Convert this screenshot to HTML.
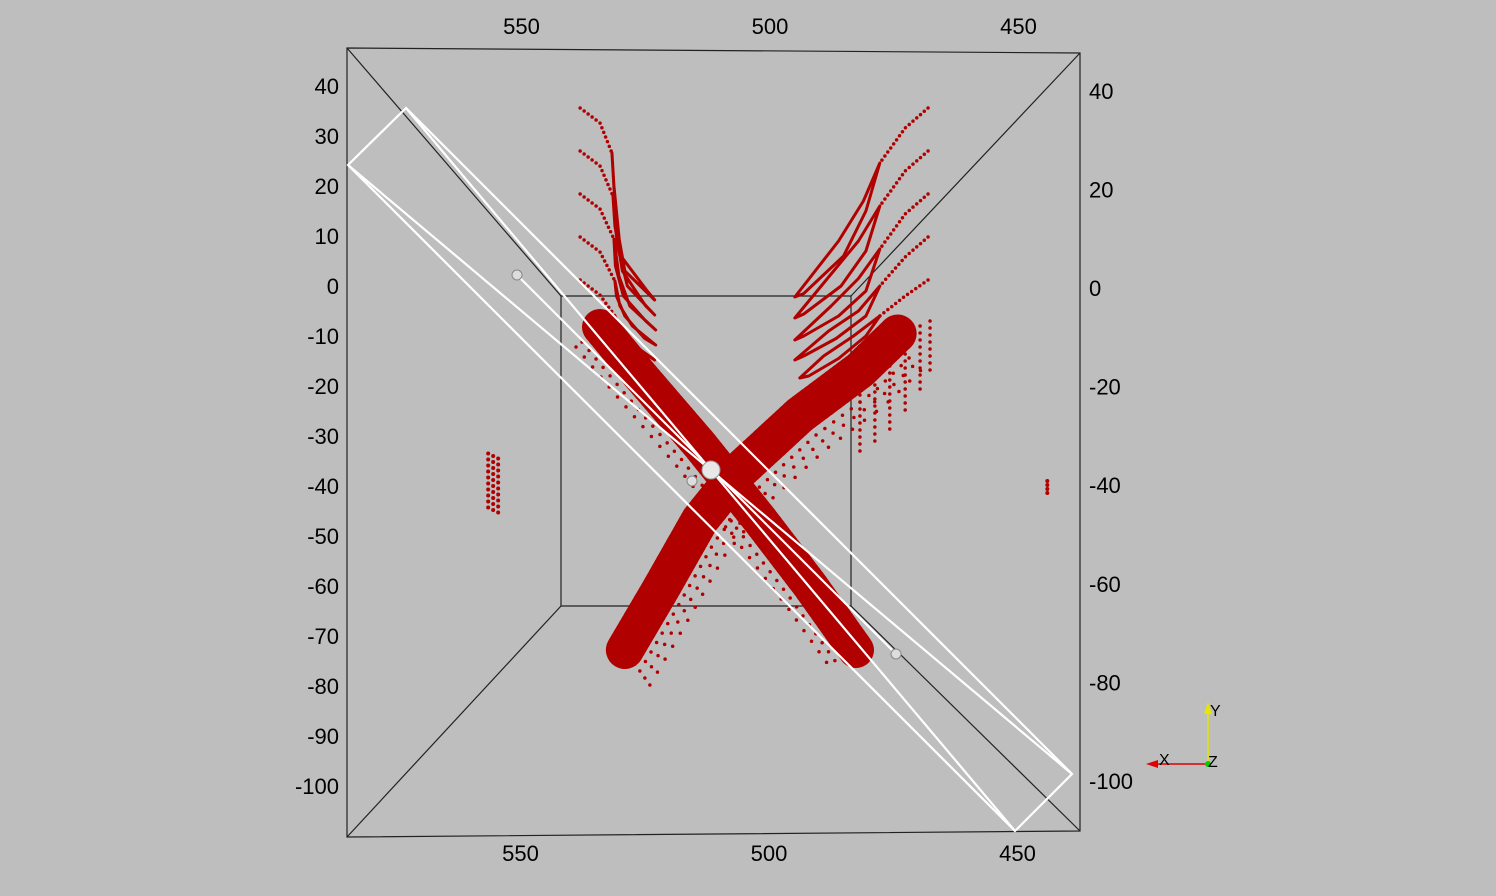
<!DOCTYPE html>
<html><head><meta charset="utf-8"><style>
html,body{margin:0;padding:0;background:#bebebe;}
svg{display:block;}
text{font-family:"Liberation Sans",sans-serif;font-size:22px;fill:#000;}
</style></head><body>
<svg id="chart" width="1496" height="896" viewBox="0 0 1496 896">
<rect width="1496" height="896" fill="#bebebe"/>
<g id="frame" stroke="#222" stroke-width="1.2" fill="none">
<polygon points="347,48 1080,53 1080,831 347,837"/>
<polygon points="561,296 851,296 851,606 561,606"/>
<line x1="347" y1="48" x2="561" y2="296"/>
<line x1="1080" y1="53" x2="851" y2="296"/>
<line x1="347" y1="837" x2="561" y2="606"/>
<line x1="1080" y1="831" x2="851" y2="606"/>
</g>
<g id="marks"></g>
<g id="plane" stroke="#fff" stroke-width="2.2" fill="none">
<polygon points="348,165 406,108 1072,774 1015,831"/>
<line x1="348" y1="165" x2="1072" y2="774"/>
<line x1="406" y1="108" x2="1015" y2="831"/>
<line x1="517" y1="275" x2="896" y2="654"/>
</g>
<g>
<circle cx="517" cy="275" r="5" fill="#ddd" stroke="#888"/>
<circle cx="711" cy="470" r="9" fill="#e8e8e8" stroke="#999"/>
<circle cx="692" cy="481" r="5" fill="#ddd" stroke="#888"/>
<circle cx="896" cy="654" r="5" fill="#ddd" stroke="#888"/>
</g>
<g id="labels"></g>
<g>
<line x1="1208" y1="764" x2="1208" y2="710" stroke="#e6e600" stroke-width="1.5"/>
<polygon points="1204,714 1212,714 1208,702" fill="#e6e600"/>
<line x1="1208" y1="764" x2="1155" y2="764" stroke="#e00000" stroke-width="1.5"/>
<polygon points="1158,760 1158,768 1146,764" fill="#e00000"/>
<circle cx="1208" cy="764" r="3" fill="#00d000"/>
<text x="1210" y="716" style="font-size:16px">Y</text>
<text x="1159" y="765" style="font-size:16px">X</text>
<text x="1208" y="767" style="font-size:16px">Z</text>
</g>
</svg>
<script>
// axis data
const leftTicks = [40,30,20,10,0,-10,-20,-30,-40,-50,-60,-70,-80,-90,-100];
const rightTicks = [40,20,0,-20,-40,-60,-80,-100];
const xTicks = [550,500,450];
// left strands: dotted tails and solid loops (data units x, y)
const leftTail1 = [[538,35.6],[534,32.6],[531.6,26.6]];
const leftLoop1 = [[531.6,26.6],[530.8,13],[529,3],[523,-2.8],[524.5,-1],[529.8,6],[531.2,20],[531.6,26.6]];
const leftTail2 = [[538,27],[534,24],[531.4,18]];
const leftLoop2 = [[531.4,18],[530.5,8],[528.5,0],[523,-5.8],[524.8,-4],[529.5,3],[531,12],[531.4,18]];
const leftTail3 = [[538,18.4],[534,15.4],[531.2,9.4]];
const leftLoop3 = [[531.2,9.4],[530.2,2],[528,-4],[522.8,-8.8],[524.8,-7],[529.3,-2],[530.9,4],[531.2,9.4]];
const leftTail4 = [[538,9.8],[534,6.8],[531,1]];
const leftLoop4 = [[531,1],[530,-4],[527.5,-8],[522.8,-11.8],[525,-10.5],[529,-6],[530.7,-2],[531,1]];
const leftTail5 = [[538,1.2],[534,-1.8],[531,-6]];
const leftLoop5 = [[531,-6],[529.5,-9],[527,-12],[523,-14.8],[525,-13.5],[529,-10],[531,-6]];
// right strands
const rightTail1 = [[468,35.6],[472.6,31.6],[477.7,24.6]];
const rightLoop1 = [[477.7,24.6],[481,17],[486,9],[494.8,-2.2],[493,-1.5],[485,6],[480.5,15],[477.7,24.6]];
const rightTail2 = [[468,27],[472.6,23],[477.7,16]];
const rightLoop2 = [[477.7,16],[482,9],[487,3],[494.8,-6.4],[493,-5.6],[485.5,0],[480.5,7],[477.7,16]];
const rightTail3 = [[468,18.4],[472.6,14.4],[477.7,7.4]];
const rightLoop3 = [[477.7,7.4],[482,1.5],[487.5,-4],[494.8,-10.8],[493,-10],[486,-6],[480.5,-1],[477.7,7.4]];
const rightTail4 = [[468,9.8],[472.6,5.8],[477.7,0]];
const rightLoop4 = [[477.7,0],[482,-5],[488,-9],[494.8,-14.8],[493,-14],[486.5,-10.5],[480.5,-6],[477.7,0]];
const rightTail5 = [[468,1.2],[472.6,-2],[477.7,-6]];
const rightLoop5 = [[477.7,-6],[483,-10],[489,-14],[493.8,-18.4],[492,-18],[486,-14.5],[480.5,-10],[477.7,-6]];
// dense bands
const band1 = [[534,-8.2],[526,-17.8],[513.9,-31.8],[501.8,-46.8],[491.8,-59.8],[482.5,-72.8]];
const band2 = [[529,-72.8],[521.9,-60.8],[513.9,-46.8],[505.8,-36.8],[493.8,-25.8],[481.7,-16.8],[474,-9.4]];
// drips in upper-right scatter region
const drip1 = [[481.7,-12],[481.7,-34]];
const drip2 = [[478.7,-10],[478.7,-32]];
const drip3 = [[475.7,-9],[475.7,-30]];
const drip4 = [[472.6,-8],[472.6,-26]];
const drip5 = [[469.6,-8],[469.6,-22]];
const drip6 = [[467.6,-7],[467.6,-18]];
const cluster1 = [[555.5,-34],[555.5,-46]];
const cluster2 = [[444,-39],[444,-42]];

const X = v => 769 - (v - 500) * 4.97;
const Y = v => 286 - v * 5.0;
const NS = 'http://www.w3.org/2000/svg';
const marks = document.getElementById('marks');
function poly(arr, w, dash, name, tx, ty){
  const p = document.createElementNS(NS,'polyline');
  p.setAttribute('points', arr.map(d => X(d[0]) + ',' + Y(d[1])).join(' '));
  p.setAttribute('fill','none');
  p.setAttribute('stroke','#b00000');
  p.setAttribute('stroke-width', w);
  p.setAttribute('stroke-linecap','round');
  p.setAttribute('stroke-linejoin','round');
  if (dash) p.setAttribute('stroke-dasharray', dash);
  if (tx || ty) p.setAttribute('transform', `translate(${tx||0},${ty||0})`);
  
  
  marks.appendChild(p);
}
[leftTail1,leftTail2,leftTail3,leftTail4,leftTail5,rightTail1,rightTail2,rightTail3,rightTail4,rightTail5].forEach((s,i)=>poly(s,3.5,'0 5',`strand-tail-${i+1}`));
[leftLoop1,leftLoop2,leftLoop3,leftLoop4,leftLoop5,rightLoop1,rightLoop2,rightLoop3,rightLoop4,rightLoop5].forEach((s,i)=>poly(s,3,'',`strand-loop-${i+1}`));
// scatter halos (offset dotted copies, styling only)
[1,2,3,4].forEach(k => poly(band1, 3.5, `0 ${5+k*2}`, 'band-1-scatter', -k*6, k*5));
[1,2].forEach(k => poly(band1, 3.5, `0 ${6+k*2}`, 'band-1-scatter', k*6, -k*5));
[1,2,3,4,5].forEach(k => poly(band2, 3.5, `0 ${5+k*2}`, 'band-2-scatter', k*5, k*7));
[1,2].forEach(k => poly(band2, 3.5, `0 ${6+k*2}`, 'band-2-scatter', -k*5, -k*6));
poly(band1, 36, '3 2', 'band-1-halo');
poly(band2, 38, '3 2', 'band-2-halo');
poly(band1, 28, '', 'band-1');
poly(band2, 32, '', 'band-2');
[drip1,drip2,drip3,drip4,drip5,drip6].forEach((s,i)=>poly(s,3.5,'0 7',`drip-${i+1}`));
[-5,0,5].forEach(o => poly(cluster1, 4, '0 6', 'cluster-left', o, o/2));
poly(cluster2, 4, '0 4', 'cluster-right');

const labels = document.getElementById('labels');
function txt(x,y,s,anchor,name){
  const t = document.createElementNS(NS,'text');
  t.setAttribute('x',x); t.setAttribute('y',y);
  t.setAttribute('text-anchor',anchor);
  t.textContent = s;
  
  
  labels.appendChild(t);
}
leftTicks.forEach(v => txt(339, Y(v) + 8, String(v), 'end', 'left-tick-label'));
rightTicks.forEach(v => txt(1089, 288 - v * 4.93 + 8, String(v), 'start', 'right-tick-label'));
xTicks.forEach(v => txt(X(v) + 1, 34, String(v), 'middle', 'top-tick-label'));
xTicks.forEach(v => txt(X(v), 861, String(v), 'middle', 'bottom-tick-label'));
</script>
</body></html>
